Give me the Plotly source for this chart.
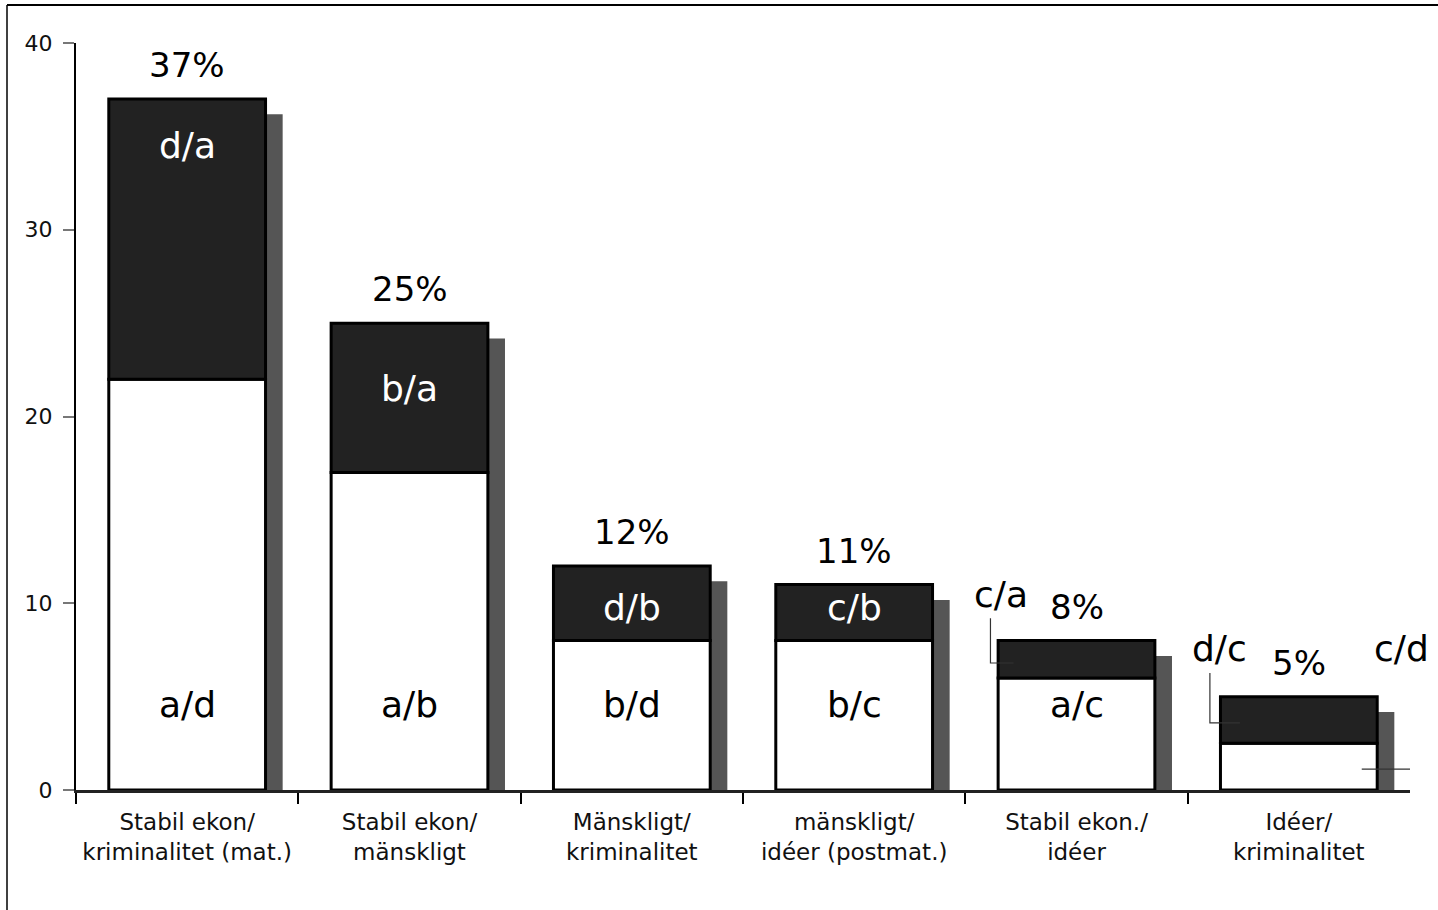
import plotly.graph_objects as go

# ---------------- data ----------------
categories = [
    "Stabil ekon/<br>kriminalitet (mat.)",
    "Stabil ekon/<br>mänskligt",
    "Mänskligt/<br>kriminalitet",
    "mänskligt/<br>idéer (postmat.)",
    "Stabil ekon./<br>idéer",
    "Idéer/<br>kriminalitet",
]
lower_values = [22, 17, 8, 8, 6, 2.5]
total_values = [37, 25, 12, 11, 8, 5]
percent_labels = ["37%", "25%", "12%", "11%", "8%", "5%"]
upper_labels = ["d/a", "b/a", "d/b", "c/b", "c/a", "d/c"]
lower_labels = ["a/d", "a/b", "b/d", "b/c", "a/c", "c/d"]
y_ticks = [0, 10, 20, 30, 40]

# ---------------- style / layout constants ----------------
W, H = 1438, 910
ML, MR, MT, MB = 76, 28, 43, 120
FONT = "DejaVu Sans"
DARK = "#222222"
SHADOW = "#555555"
BAR_W = 0.705
SHADOW_W = 0.077
SHADOW_DROP = 0.82
BIG = 34
INNER = 36

upper_mid = [34.5, 21.5, 9.75, 9.75]          # inside label heights (first 4 bars)
lower_mid = 4.6
# callouts: (bar index, which label, label dx, label y, [(dx,y) path points])
callouts = [
    (4, 0, -0.34, 10.45, [(-0.387, 9.2), (-0.387, 6.8), (-0.283, 6.8)]),
    (5, 0, -0.355, 7.6, [(-0.40, 6.27), (-0.40, 3.59), (-0.265, 3.59)]),
    (5, 1, 0.46, 7.6, [(0.517, 6.3), (0.517, 1.12), (0.283, 1.12)]),
]

n = len(categories)
idx = list(range(n))
upper_sizes = [t - l for t, l in zip(total_values, lower_values)]
shadow_vals = [t - SHADOW_DROP for t in total_values]

fig = go.Figure()
# shadows
fig.add_trace(go.Bar(
    x=idx, y=shadow_vals, base=0, width=SHADOW_W, offset=BAR_W / 2,
    marker=dict(color=SHADOW, line=dict(width=0)), hoverinfo="skip", showlegend=False))
# lower (white) segments
fig.add_trace(go.Bar(
    x=idx, y=lower_values, base=0, width=BAR_W,
    marker=dict(color="white", line=dict(color="black", width=3)), showlegend=False))
# upper (dark) segments
fig.add_trace(go.Bar(
    x=idx, y=upper_sizes, base=lower_values, width=BAR_W,
    marker=dict(color=DARK, line=dict(color="black", width=3)), showlegend=False))

ann = []
for i in idx:
    ann.append(dict(x=i, y=total_values[i], text=percent_labels[i], showarrow=False,
                    yanchor="middle", yshift=34, font=dict(size=BIG, color="black")))
for i, ym in enumerate(upper_mid):
    ann.append(dict(x=i, y=ym, text=upper_labels[i], showarrow=False,
                    font=dict(size=INNER, color="white")))
for i in range(5):
    ann.append(dict(x=i, y=lower_mid, text=lower_labels[i], showarrow=False,
                    font=dict(size=INNER, color="black")))

shapes = []
for bi, which, dx, ly, pts in callouts:
    txt = upper_labels[bi] if which == 0 else lower_labels[bi]
    ann.append(dict(x=bi + dx, y=ly, text=txt, showarrow=False,
                    font=dict(size=INNER, color="black")))
    path = "M " + " L ".join(f"{bi + px},{py}" for px, py in pts)
    shapes.append(dict(type="path", path=path, xref="x", yref="y",
                       line=dict(color="#333333", width=1.2)))

# outer frame (top and left lines)
pw, ph = W - ML - MR, H - MT - MB
fx = (7 - ML) / pw
fy_top = (H - MB - 5) / ph
fy_bot = (H - MB - H) / ph
fx_right = (W - ML) / pw
shapes.append(dict(type="line", xref="paper", yref="paper", x0=fx, x1=fx_right,
                   y0=fy_top, y1=fy_top, line=dict(color="black", width=2)))
shapes.append(dict(type="line", xref="paper", yref="paper", x0=fx, x1=fx,
                   y0=fy_top, y1=fy_bot, line=dict(color="black", width=1.5)))

fig.update_layout(
    width=W, height=H, barmode="overlay",
    margin=dict(l=ML, r=MR, t=MT, b=MB, pad=0),
    paper_bgcolor="white", plot_bgcolor="white",
    font=dict(family=FONT, color="black"),
    annotations=ann, shapes=shapes, showlegend=False,
    xaxis=dict(
        range=[-0.5, n - 0.5], tickvals=idx, ticktext=categories,
        showgrid=False, zeroline=False, ticks="",
        showline=True, linecolor="#222222", linewidth=3,
        tickfont=dict(size=23, color="#111111"), ticklabelstandoff=9,
        minor=dict(tickvals=[i - 0.5 for i in range(n)], ticks="outside",
                   ticklen=11, tickwidth=2, tickcolor="black", showgrid=False),
    ),
    yaxis=dict(
        range=[0, 40], tickvals=y_ticks, showgrid=False, zeroline=False,
        showline=True, linecolor="black", linewidth=2,
        ticks="outside", ticklen=11, tickwidth=2, tickcolor="#777777",
        tickfont=dict(size=22, color="#111111"), ticklabelstandoff=6,
    ),
)

fig.write_html(
    "out.html",
    config={"displayModeBar": False},
    post_script="document.body.style.margin='0';document.body.style.overflow='hidden';",
)
